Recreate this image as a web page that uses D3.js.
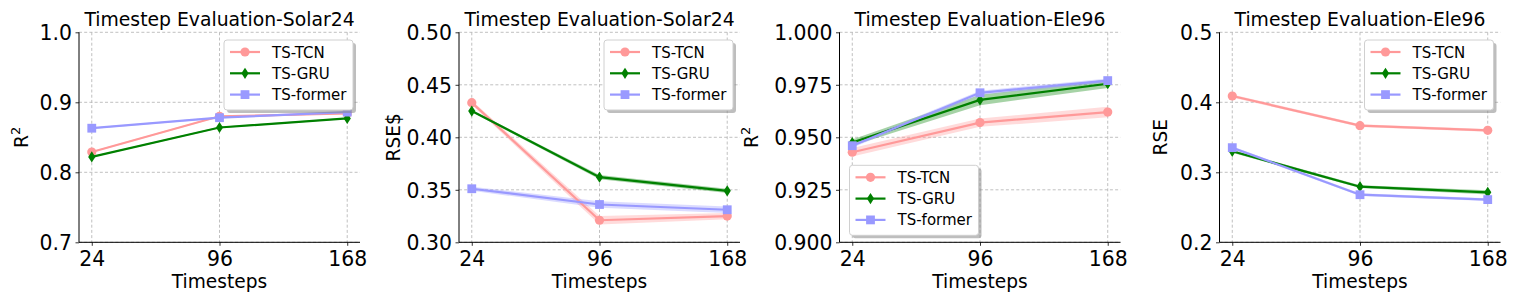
<!DOCTYPE html>
<html>
<head>
<meta charset="utf-8">
<script src="https://cdn.jsdelivr.net/npm/d3@7"></script>
<style>
  html, body { margin: 0; padding: 0; background: #fff; }
  svg { display: block; font-family: "DejaVu Sans", sans-serif; }
</style>
</head>
<body>
<svg id="chart" width="1522" height="305"></svg>
<script>
// ---------- data ----------
const timesteps = [24, 96, 168];
const seriesNames = ["TS-TCN", "TS-GRU", "TS-former"];
const seriesColors = ["#ff9999", "#008000", "#9999ff"];
const seriesMarkers = ["circle", "diamond", "square"];

const titles = ["Timestep Evaluation-Solar24", "Timestep Evaluation-Solar24",
                "Timestep Evaluation-Ele96", "Timestep Evaluation-Ele96"];
const yLabels = ["R2", "RSE$", "R2", "RSE"];

// panel 1: R^2 Solar24
const p1TCN = [0.829, 0.880, 0.884];
const p1GRU = [0.822, 0.864, 0.877];
const p1Former = [0.863, 0.878, 0.886];
const p1Err = [[0.001, 0.001, 0.001], [0.001, 0.001, 0.001], [0.001, 0.001, 0.001]];
// panel 2: RSE Solar24
const p2TCN = [0.433, 0.321, 0.325];
const p2GRU = [0.425, 0.362, 0.349];
const p2Former = [0.351, 0.336, 0.331];
const p2Err = [[0.002, 0.004, 0.003], [0.001, 0.002, 0.002], [0.002, 0.003, 0.003]];
// panel 3: R^2 Ele96
const p3TCN = [0.9429, 0.957, 0.962];
const p3GRU = [0.9475, 0.9678, 0.9755];
const p3Former = [0.946, 0.9712, 0.977];
const p3Err = [[0.002, 0.002, 0.0025], [0.0015, 0.0025, 0.002], [0.001, 0.001, 0.001]];
// panel 4: RSE Ele96
const p4TCN = [0.409, 0.3666, 0.360];
const p4GRU = [0.330, 0.2794, 0.2714];
const p4Former = [0.3352, 0.268, 0.261];
const p4Err = [[0.002, 0.002, 0.002], [0.002, 0.002, 0.003], [0.002, 0.002, 0.002]];

const yTicks = [
  [0.7, 0.8, 0.9, 1.0],
  [0.30, 0.35, 0.40, 0.45, 0.50],
  [0.900, 0.925, 0.950, 0.975, 1.000],
  [0.2, 0.3, 0.4, 0.5]
];
const yFormats = [".1f", ".2f", ".3f", ".1f"];
const legendPos = ["upper right", "upper right", "lower left", "upper right"];

const panelValues = [
  [p1TCN, p1GRU, p1Former],
  [p2TCN, p2GRU, p2Former],
  [p3TCN, p3GRU, p3Former],
  [p4TCN, p4GRU, p4Former]
];
const panelErr = [p1Err, p2Err, p3Err, p4Err];

// ---------- layout ----------
const panelLeft = [79, 459, 839.5, 1219.5];
const panelW = 281;
const axTop = 32.3, axBottom = 242.3;
const yLabelOffset = [-51, -59, -82, -53];

const svg = d3.select("#chart");

function drawMarker(g, type, x, y, color) {
  if (type === "circle") {
    g.append("circle").attr("cx", x).attr("cy", y).attr("r", 4.6).attr("fill", color);
  } else if (type === "square") {
    g.append("rect").attr("x", x - 4.4).attr("y", y - 4.4).attr("width", 8.8).attr("height", 8.8).attr("fill", color);
  } else {
    g.append("path").attr("d", `M${x},${y - 5.6} L${x + 3.6},${y} L${x},${y + 5.6} L${x - 3.6},${y} Z`).attr("fill", color);
  }
}

panelValues.forEach((vals, pi) => {
  const ticks = yTicks[pi];
  const h = axBottom - axTop;
  const x = d3.scaleLinear().domain([24 - 7.2, 168 + 7.2]).range([0, panelW]);
  const y = d3.scaleLinear().domain([ticks[0], ticks[ticks.length - 1]]).range([h, 0]);
  const g = svg.append("g").attr("transform", `translate(${panelLeft[pi]},${axTop})`);

  // grid
  const grid = g.append("g").attr("stroke", "#b0b0b0").attr("stroke-width", 0.8).attr("stroke-dasharray", "3,2.2");
  timesteps.forEach(t => grid.append("line").attr("x1", x(t)).attr("x2", x(t)).attr("y1", 0).attr("y2", h));
  ticks.forEach(t => grid.append("line").attr("x1", 0).attr("x2", panelW).attr("y1", y(t)).attr("y2", y(t)));

  // bands
  vals.forEach((v, si) => {
    const err = panelErr[pi][si];
    const area = d3.area()
      .x((d, i) => x(timesteps[i]))
      .y0((d, i) => y(d - err[i]))
      .y1((d, i) => y(d + err[i]));
    g.append("path").attr("d", area(v)).attr("fill", seriesColors[si]).attr("opacity", 0.35);
  });
  // lines + markers
  vals.forEach((v, si) => {
    const line = d3.line().x((d, i) => x(timesteps[i])).y(d => y(d));
    g.append("path").attr("d", line(v)).attr("fill", "none")
      .attr("stroke", seriesColors[si]).attr("stroke-width", 2.2);
    v.forEach((d, i) => drawMarker(g, seriesMarkers[si], x(timesteps[i]), y(d), seriesColors[si]));
  });

  // axes
  const xAxis = d3.axisBottom(x).tickValues(timesteps).tickSize(3.5).tickPadding(3);
  const yAxis = d3.axisLeft(y).tickValues(ticks).tickFormat(d3.format(yFormats[pi])).tickSize(3.5).tickPadding(3.5);
  const xg = g.append("g").attr("transform", `translate(0,${h})`).call(xAxis);
  const yg = g.append("g").call(yAxis);
  [xg, yg].forEach(a => {
    a.selectAll("path.domain").attr("stroke", "#000").attr("stroke-width", 1);
    a.selectAll(".tick line").attr("stroke", "#000").attr("stroke-width", 0.8);
    a.selectAll("text").attr("font-family", "DejaVu Sans").attr("font-size", 20.4).attr("fill", "#000");
  });
  xg.select("path.domain").attr("d", `M0,0H${panelW}`);
  yg.select("path.domain").attr("d", `M0,0V${h}`);
  xg.selectAll(".tick text").attr("dy", null).attr("y", 0).attr("transform", "translate(0,24)");
  yg.selectAll(".tick text").attr("dy", "0.36em");

  // title
  g.append("text").attr("x", panelW / 2).attr("y", 26 - axTop).attr("text-anchor", "middle")
    .attr("font-size", 18.8).text(titles[pi]);
  // x label
  g.append("text").attr("x", panelW / 2).attr("y", 288.5 - axTop).attr("text-anchor", "middle")
    .attr("font-size", 18.6).text("Timesteps");
  // y label
  const yl = g.append("text").attr("transform", `translate(${yLabelOffset[pi]},${h / 2}) rotate(-90)`)
    .attr("text-anchor", "middle").attr("font-size", 18.6);
  if (yLabels[pi] === "R2") {
    yl.append("tspan").text("R");
    yl.append("tspan").attr("font-size", 13).attr("dy", -8).text("2");
  } else {
    yl.text(yLabels[pi]);
  }

  // legend
  const lw = 129, lh = 70;
  let lx, ly;
  if (legendPos[pi] === "upper right") { lx = panelW - 7 - lw; ly = 7.7; }
  else { lx = 10; ly = h - 7 - lh; }
  const lg = g.append("g").attr("transform", `translate(${lx},${ly})`);
  lg.append("rect").attr("x", 3).attr("y", 3).attr("width", lw).attr("height", lh).attr("rx", 3)
    .attr("fill", "#888").attr("opacity", 0.55);
  lg.append("rect").attr("width", lw).attr("height", lh).attr("rx", 3)
    .attr("fill", "#fff").attr("stroke", "#d0d0d0").attr("stroke-width", 1);
  seriesNames.forEach((name, si) => {
    const ry = 12 + si * 21.3;
    lg.append("line").attr("x1", 6).attr("x2", 36).attr("y1", ry).attr("y2", ry)
      .attr("stroke", seriesColors[si]).attr("stroke-width", 2.2);
    drawMarker(lg, seriesMarkers[si], 21, ry, seriesColors[si]);
    lg.append("text").attr("x", 48).attr("y", ry + 5.5).attr("font-size", 15).text(name);
  });
});
</script>
</body>
</html>
